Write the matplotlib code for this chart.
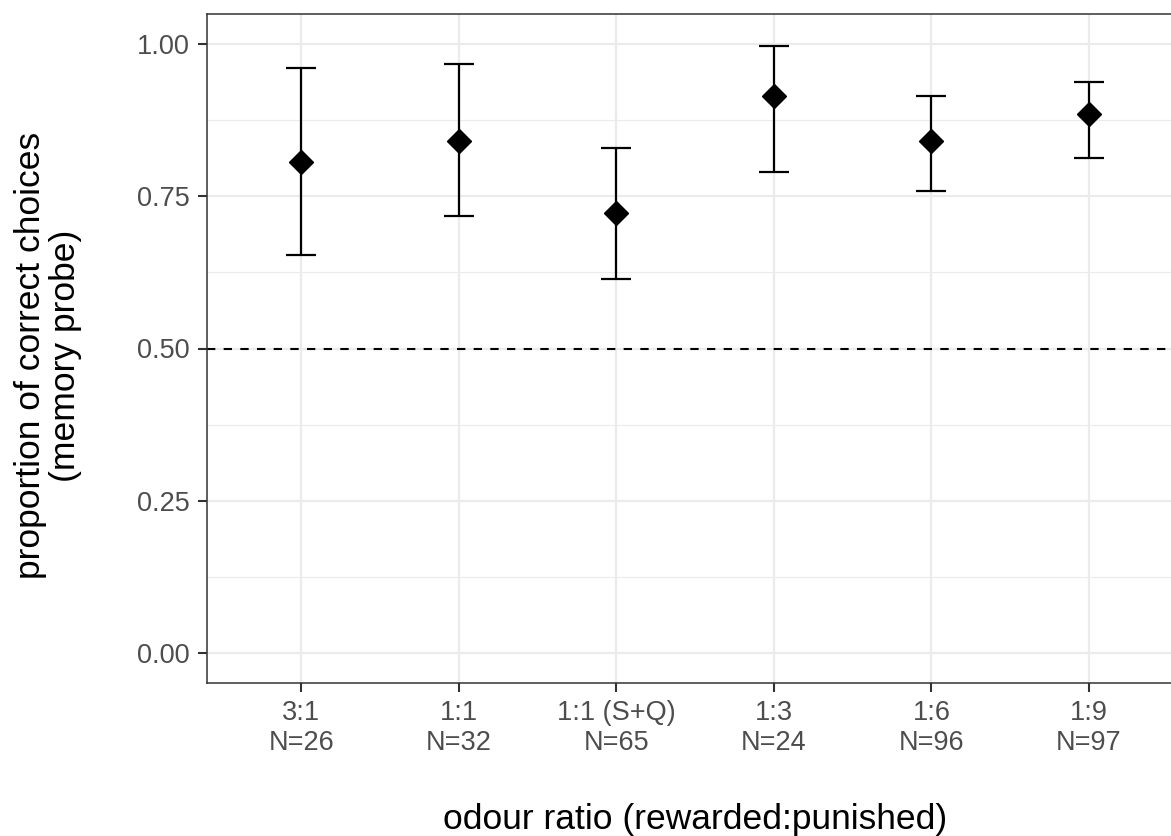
import numpy as np
import matplotlib.pyplot as plt
from matplotlib.ticker import MultipleLocator

ratios = ['3:1', '1:1', '1:1 (S+Q)', '1:3', '1:6', '1:9']
n_flies = [26, 32, 65, 24, 96, 97]
means = [0.806, 0.842, 0.722, 0.915, 0.842, 0.885]
upper = [0.961, 0.967, 0.829, 0.998, 0.915, 0.938]
lower = [0.653, 0.718, 0.614, 0.790, 0.759, 0.814]

plt.rcParams['font.family'] = ['Liberation Sans', 'DejaVu Sans']

W, H = 1171, 836
fig = plt.figure(figsize=(W / 100, H / 100), dpi=100)
ax = fig.add_axes([206.7 / W, (H - 683) / H, 976.8 / W, 669 / H])

x = np.arange(1, len(ratios) + 1)
m = np.array(means)
yerr = [m - np.array(lower), np.array(upper) - m]

ax.axhline(0.5, color='black', lw=1.5, ls=(0, (4, 4)), zorder=2)
ax.errorbar(x, m, yerr=yerr, fmt='none', ecolor='black', elinewidth=1.6,
            capsize=11, capthick=1.6, zorder=3)
ax.plot(x, m, 'D', color='black', ms=12, zorder=4)

ax.set_xlim(0.4, 6.6)
ax.set_ylim(-0.05, 1.05)
ax.set_xticks(x)
ax.set_xticklabels([f'{r}\nN={n}' for r, n in zip(ratios, n_flies)])
ax.yaxis.set_major_locator(MultipleLocator(0.25))
ax.yaxis.set_minor_locator(MultipleLocator(0.125))
ax.yaxis.set_major_formatter(lambda v, p: f'{v:.2f}')

ax.grid(True, which='major', color='#EBEBEB', lw=1.6, zorder=0)
ax.grid(True, which='minor', axis='y', color='#EBEBEB', lw=0.8, zorder=0)
ax.set_axisbelow(True)
ax.tick_params(which='major', length=6.5, width=1.5, color='#333333',
               labelcolor='#4D4D4D', labelsize=19.5, pad=6)
ax.tick_params(which='minor', length=0)
for s in ax.spines.values():
    s.set_color('#333333')
    s.set_linewidth(1.1)

ax.set_xlabel('odour ratio (rewarded:punished)', fontsize=25.5)
ax.set_ylabel('proportion of correct choices\n(memory probe)', fontsize=25.5,
              multialignment='center', linespacing=1.05)
ax.xaxis.set_label_coords(0.5, -0.179)
ax.yaxis.set_label_coords(-0.128, 0.489)
ax.xaxis.label.set_va('top')
ax.yaxis.label.set_va('bottom')

fig.savefig('out.png', dpi=100)
